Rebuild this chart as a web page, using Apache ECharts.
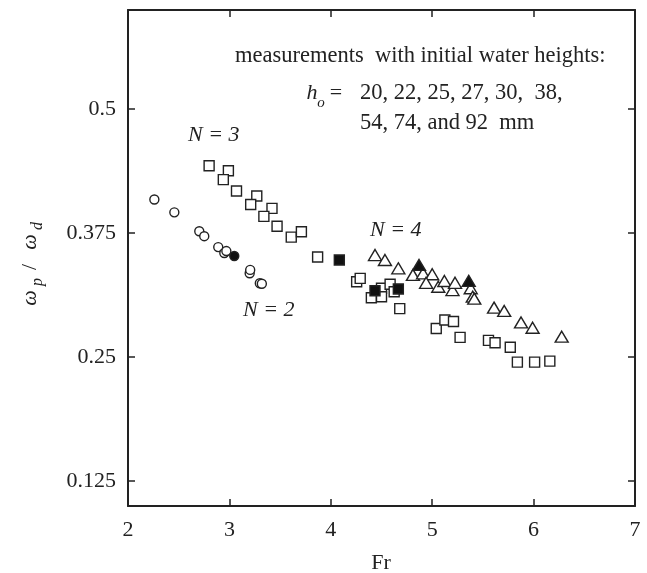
<!DOCTYPE html>
<html>
<head>
<meta charset="utf-8">
<script src="https://cdn.jsdelivr.net/npm/echarts@6/dist/echarts.min.js"></script>
<style>html,body{margin:0;padding:0;background:#fff;}#c{width:647px;height:573px;}</style>
</head>
<body>
<div id="c"></div>
<script>
// ---- data (Fr, omega_p/omega_d) ----
var xTicks = [2, 3, 4, 5, 6, 7];
var yTicks = [0.125, 0.25, 0.375, 0.5];

var n2Open = [[2.26,0.409],[2.457,0.396],[2.703,0.377],[2.752,0.372],[2.89,0.361],[2.95,0.355],[2.97,0.357],[3.20,0.3346],[3.205,0.338],[3.30,0.3245],[3.32,0.324]];
var n2Filled = [[3.048,0.352]];

var squaresOpen = [[2.80,0.443],[2.99,0.438],[2.94,0.429],[3.07,0.4175],[3.27,0.4125],[3.21,0.404],[3.42,0.400],[3.34,0.392],[3.47,0.382],[3.61,0.371],[3.71,0.3765],[3.87,0.351],[4.255,0.326],[4.29,0.3295],[4.50,0.3195],[4.585,0.3235],[4.40,0.310],[4.50,0.311],[4.625,0.316],[4.68,0.299],[5.04,0.279],[5.125,0.2875],[5.21,0.286],[5.275,0.270],[5.555,0.267],[5.62,0.2645],[5.77,0.260],[5.84,0.245],[6.01,0.245],[6.16,0.246]];
var squaresFilled = [[4.084,0.348],[4.436,0.317],[4.666,0.3188]];

var trianglesOpen = [[4.436,0.353],[4.534,0.348],[4.666,0.3396],[4.81,0.333],[4.91,0.3346],[5.0,0.3336],[4.94,0.325],[5.06,0.321],[5.12,0.3268],[5.20,0.3177],[5.225,0.325],[5.38,0.3195],[5.40,0.311],[5.415,0.309],[5.61,0.300],[5.71,0.2966],[5.876,0.285],[5.99,0.2797],[6.277,0.2707]];
var trianglesFilled = [[4.87,0.343],[5.36,0.327]];

var C = '#222';
var FONT = 'Liberation Serif';

var chart = echarts.init(document.getElementById('c'), null, {renderer: 'canvas'});

function tickStyle(){ return {show:true, inside:true, length:7, lineStyle:{color:C, width:1.5}}; }

function sc(name, data, symbol, size, fill){
  return {
    name: name, type: 'scatter', data: data, symbol: symbol, symbolSize: size,
    itemStyle: {color: fill, borderColor: C, borderWidth: 1.4, opacity: 1},
    emphasis: {disabled: true}, z: fill === '#fff' ? 2 : 3
  };
}

var option = {
  animation: false,
  backgroundColor: '#fff',
  grid: {left: 128, right: 12, top: 10, bottom: 67},
  xAxis: [{
    type: 'value', min: 2, max: 7, interval: 1, position: 'bottom',
    axisLine: {show:true, lineStyle:{color:C, width:2}},
    axisTick: tickStyle(),
    axisLabel: {color:C, fontFamily:FONT, fontSize:22, margin:13},
    splitLine: {show:false}
  },{
    type: 'value', min: 2, max: 7, interval: 1, position: 'top',
    axisLine: {show:true, onZero:false, lineStyle:{color:C, width:2}},
    axisTick: tickStyle(),
    axisLabel: {show:false},
    splitLine: {show:false}
  }],
  yAxis: [{
    type: 'value', min: 0.1, max: 0.6, position: 'left',
    axisLine: {show:true, onZero:false, lineStyle:{color:C, width:2}},
    axisTick: Object.assign(tickStyle(), {customValues: yTicks}),
    axisLabel: {color:C, fontFamily:FONT, fontSize:22, margin:12, customValues: yTicks},
    splitLine: {show:false}
  },{
    type: 'value', min: 0.1, max: 0.6, position: 'right',
    axisLine: {show:true, onZero:false, lineStyle:{color:C, width:2}},
    axisTick: Object.assign(tickStyle(), {customValues: yTicks}),
    axisLabel: {show:false, customValues: yTicks},
    splitLine: {show:false}
  }],
  series: [
    sc('N2 open', n2Open, 'circle', 9, '#fff'),
    sc('N3 open', squaresOpen, 'rect', 10, '#fff'),
    sc('N4 open', trianglesOpen, 'triangle', [13, 11], '#fff'),
    sc('N2 filled', n2Filled, 'circle', 9, '#111'),
    sc('N3 filled', squaresFilled, 'rect', 10, '#111'),
    sc('N4 filled', trianglesFilled, 'triangle', [13, 11], '#111')
  ],
  graphic: [
    {type:'text', left:235, top:45, style:{text:'measurements  with initial water heights:', font:'22.5px "Liberation Serif"', fill:C}},
    {type:'text', x:312, y:93, style:{text:'h', font:'italic 22px "Liberation Serif"', fill:C, align:'center', verticalAlign:'middle'}},
    {type:'text', x:321, y:103, style:{text:'o', font:'italic 15px "Liberation Serif"', fill:C, align:'center', verticalAlign:'middle'}},
    {type:'text', x:336, y:93, style:{text:'=', font:'22px "Liberation Serif"', fill:C, align:'center', verticalAlign:'middle'}},
    {type:'text', x:360, y:93, style:{text:'20, 22, 25, 27, 30,  38,', font:'22.5px "Liberation Serif"', fill:C, align:'left', verticalAlign:'middle'}},
    {type:'text', x:360, y:123, style:{text:'54, 74, and 92  mm', font:'22.5px "Liberation Serif"', fill:C, align:'left', verticalAlign:'middle'}},
    {type:'text', x:188, y:135, style:{text:'N = 3', font:'italic 22px "Liberation Serif"', fill:C, align:'left', verticalAlign:'middle'}},
    {type:'text', x:243, y:310, style:{text:'N = 2', font:'italic 22px "Liberation Serif"', fill:C, align:'left', verticalAlign:'middle'}},
    {type:'text', x:370, y:230, style:{text:'N = 4', font:'italic 22px "Liberation Serif"', fill:C, align:'left', verticalAlign:'middle'}},
    {type:'text', x:381, y:563, style:{text:'Fr', font:'22px "Liberation Serif"', fill:C, align:'center', verticalAlign:'middle'}},
    {type:'group', x:30, y:265, rotation:Math.PI/2, children:[
      {type:'text', x:-33, y:0, style:{text:'ω', font:'italic 22px "Liberation Serif"', fill:C, align:'center', verticalAlign:'middle'}},
      {type:'text', x:-17, y:8, style:{text:'p', font:'italic 16px "Liberation Serif"', fill:C, align:'center', verticalAlign:'middle'}},
      {type:'text', x:-2, y:0, style:{text:'/', font:'22px "Liberation Serif"', fill:C, align:'center', verticalAlign:'middle'}},
      {type:'text', x:23, y:0, style:{text:'ω', font:'italic 22px "Liberation Serif"', fill:C, align:'center', verticalAlign:'middle'}},
      {type:'text', x:39, y:8, style:{text:'d', font:'italic 16px "Liberation Serif"', fill:C, align:'center', verticalAlign:'middle'}}
    ]}
  ]
};
chart.setOption(option);
</script>
</body>
</html>
